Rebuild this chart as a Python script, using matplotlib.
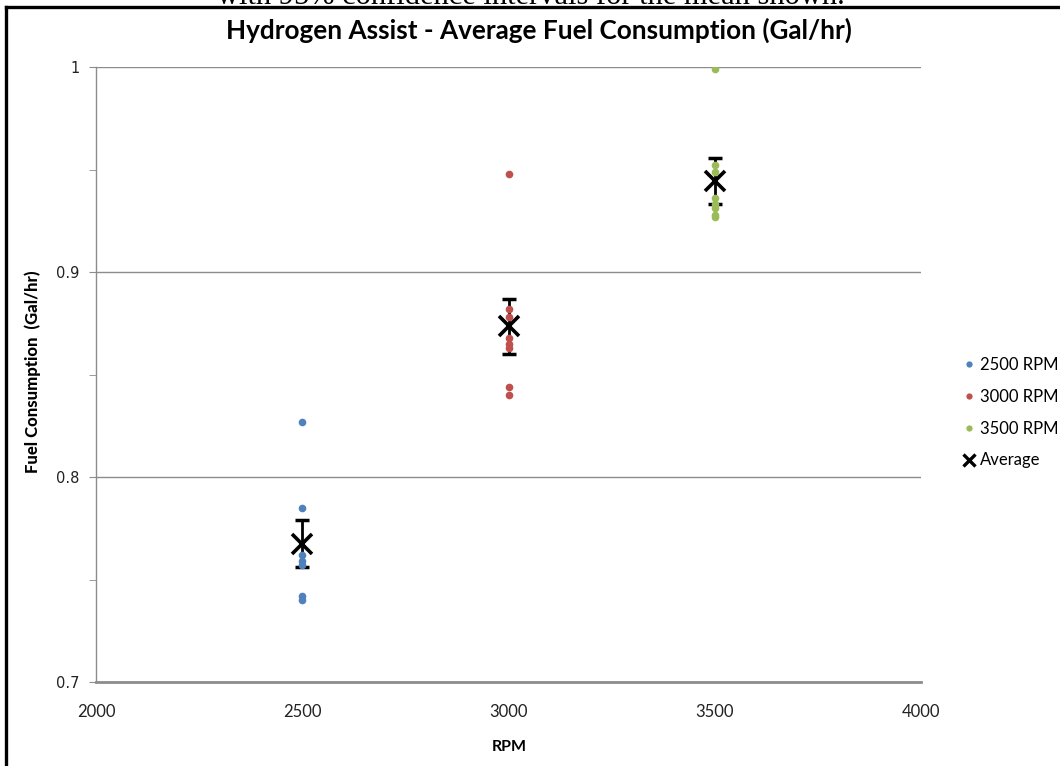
import matplotlib.pyplot as plt
import numpy as np
from matplotlib.lines import Line2D

# fuel consumption runs (Gal/hr) at each engine speed
rpm_levels = [2500, 3000, 3500]
runs_2500 = [0.827, 0.785, 0.762, 0.759, 0.757, 0.742, 0.740]
runs_3000 = [0.948, 0.882, 0.878, 0.868, 0.865, 0.863, 0.844, 0.840]
runs_3500 = [0.999, 0.952, 0.949, 0.936, 0.933, 0.931, 0.928, 0.927]
ci_95 = [0.0115, 0.0133, 0.0112]

series_labels = ['2500 RPM', '3000 RPM', '3500 RPM']
series_colors = ['#4F81BD', '#C0504D', '#9BBB59']

x_ticks = [2000, 2500, 3000, 3500, 4000]
y_ticks = [0.7, 0.8, 0.9, 1.0]
y_ticklabels = ['0.7', '0.8', '0.9', '1']

W, H = 1060, 766
fig = plt.figure(figsize=(W / 100, H / 100), dpi=100)
ax = fig.add_axes([96 / W, 1 - 682 / H, (921 - 96) / W, (682 - 67) / H])

calibri = ['Lato', 'DejaVu Sans']

all_runs = [runs_2500, runs_3000, runs_3500]
for rpm, runs, col in zip(rpm_levels, all_runs, series_colors):
    ax.plot([rpm] * len(runs), runs, 'o', color=col, markersize=5.5,
            markeredgewidth=0, zorder=4)

means = [np.mean(r) for r in all_runs]
ax.errorbar(rpm_levels, means, yerr=ci_95, fmt='none', ecolor='black',
            elinewidth=2, capsize=5, capthick=2.5, zorder=3)
ax.plot(rpm_levels, means, 'x', color='black', markersize=14,
        markeredgewidth=2.6, linestyle='none', zorder=5)

ax.set_xlim(2000, 4000)
ax.set_ylim(0.7, 1.0)
ax.set_xticks(x_ticks)
ax.set_xticklabels([str(v) for v in x_ticks], family=calibri, fontsize=12,
                   color='#222222')
ax.set_yticks(y_ticks)
ax.set_yticklabels(y_ticklabels, family='DejaVu Sans', fontsize=10.5,
                   color='#222222')
ax.set_yticks([0.75, 0.85, 0.95], minor=True)

ax.tick_params(axis='x', length=0, pad=16)
ax.tick_params(axis='y', which='both', length=5, color='#8c8c8c', pad=7)
ax.grid(axis='y', color='#8c8c8c', linewidth=1)
ax.set_axisbelow(True)

for side in ['top', 'right']:
    ax.spines[side].set_visible(False)
ax.spines['left'].set_color('#8c8c8c')
ax.spines['left'].set_linewidth(1)
ax.spines['bottom'].set_color('#8c8c8c')
ax.spines['bottom'].set_linewidth(2)

fig.text(509 / W, 1 - 747 / H, 'RPM', ha='center', va='center',
         family=calibri, fontweight='bold', fontsize=11.5)
fig.text(33 / W, 1 - 372 / H, 'Fuel Consumption  (Gal/hr)', ha='center',
         va='center', rotation=90, family=calibri, fontweight='black',
         fontsize=12)

fig.text(539 / W, 1 - 30 / H, 'Hydrogen Assist - Average Fuel Consumption (Gal/hr)',
         ha='center', va='center', family=calibri, fontweight='bold', fontsize=18.8)

# caption line running off the top of the page
fig.text(531 / W, 1 - 4 / H, 'with 95% confidence intervals for the mean shown.',
         ha='center', va='baseline', family='Liberation Serif', fontsize=22)

# page frame
fig.add_artist(Line2D([5.5 / W, 5.5 / W], [0, 1 - 6.5 / H], color='black', linewidth=2.4))
fig.add_artist(Line2D([5.5 / W, 1], [1 - 6.5 / H, 1 - 6.5 / H], color='black', linewidth=2.4))

# legend keys drawn smaller than the plotted markers
handles = [Line2D([], [], marker='o', linestyle='none', color=c, markersize=4.5,
                  markeredgewidth=0) for c in series_colors]
handles.append(Line2D([], [], marker='x', linestyle='none', color='black',
                      markersize=8, markeredgewidth=2.4))
ax.legend(handles, series_labels + ['Average'], loc='upper left',
          bbox_to_anchor=(964 / W, 1 - 357 / H), bbox_transform=fig.transFigure,
          frameon=False, prop={'family': calibri, 'size': 12}, handlelength=0.6,
          handletextpad=0.35, labelspacing=0.95, borderpad=0, borderaxespad=0)

fig.savefig('out.png', dpi=100)
